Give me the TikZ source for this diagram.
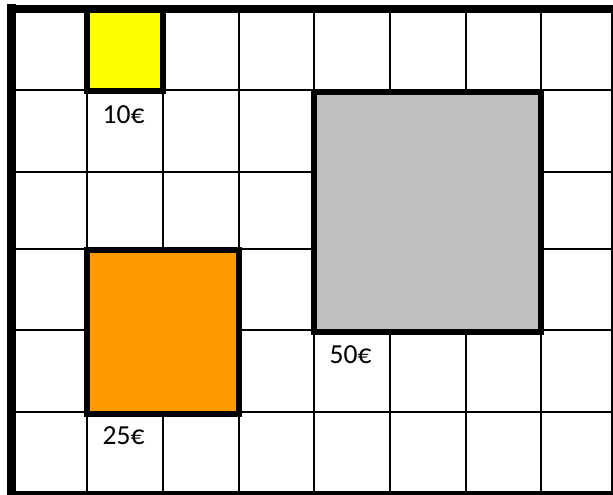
\documentclass[tikz,border=0pt]{standalone}
\usepackage{fontspec}
\setmainfont{Carlito}
\definecolor{boxyellow}{HTML}{FFFF00}
\definecolor{boxorange}{HTML}{FF9900}
\definecolor{boxgray}{HTML}{C0C0C0}
\tikzset{
  gridline/.style={line width=2.6pt, black},
  pricebox/.style={line width=6pt, black},
  pricelabel/.style={anchor=base west, inner sep=0pt, font=\fontsize{27.5}{30}\selectfont}
}
\begin{document}
\begin{tikzpicture}[x=1pt,y=-1pt]
\useasboundingbox (0,0) rectangle (613,495);
\fill[white] (0,0) rectangle (613,495);
% vertical grid lines
\foreach \x in {87,163,239,314,390,466,541}
  \draw[gridline] (\x,9) -- (\x,493);
% horizontal grid lines
\foreach \y in {90,172,249,330,412}
  \draw[gridline] (11,\y) -- (612,\y);
% right and bottom border
\draw[gridline] (612,9) -- (612,493);
\draw[line width=3.2pt] (11,493) -- (613.3,493);
% price boxes
\draw[pricebox, fill=boxyellow] (87,9) rectangle (163,91);
\draw[pricebox, fill=boxorange] (87,250) rectangle (239,414);
\draw[pricebox, fill=boxgray] (314,92) rectangle (541,332);
% thick outer left and top border
\draw[line width=9pt] (11.5,4.5) -- (11.5,495);
\draw[line width=8pt] (7,9) -- (613,9);
% labels
\node[pricelabel] (l10) at (102.5,123) {10€};
\node[pricelabel] (l25) at (102.5,444) {25€};
\node[pricelabel] (l50) at (329.5,363) {50€};
\end{tikzpicture}
\end{document}
